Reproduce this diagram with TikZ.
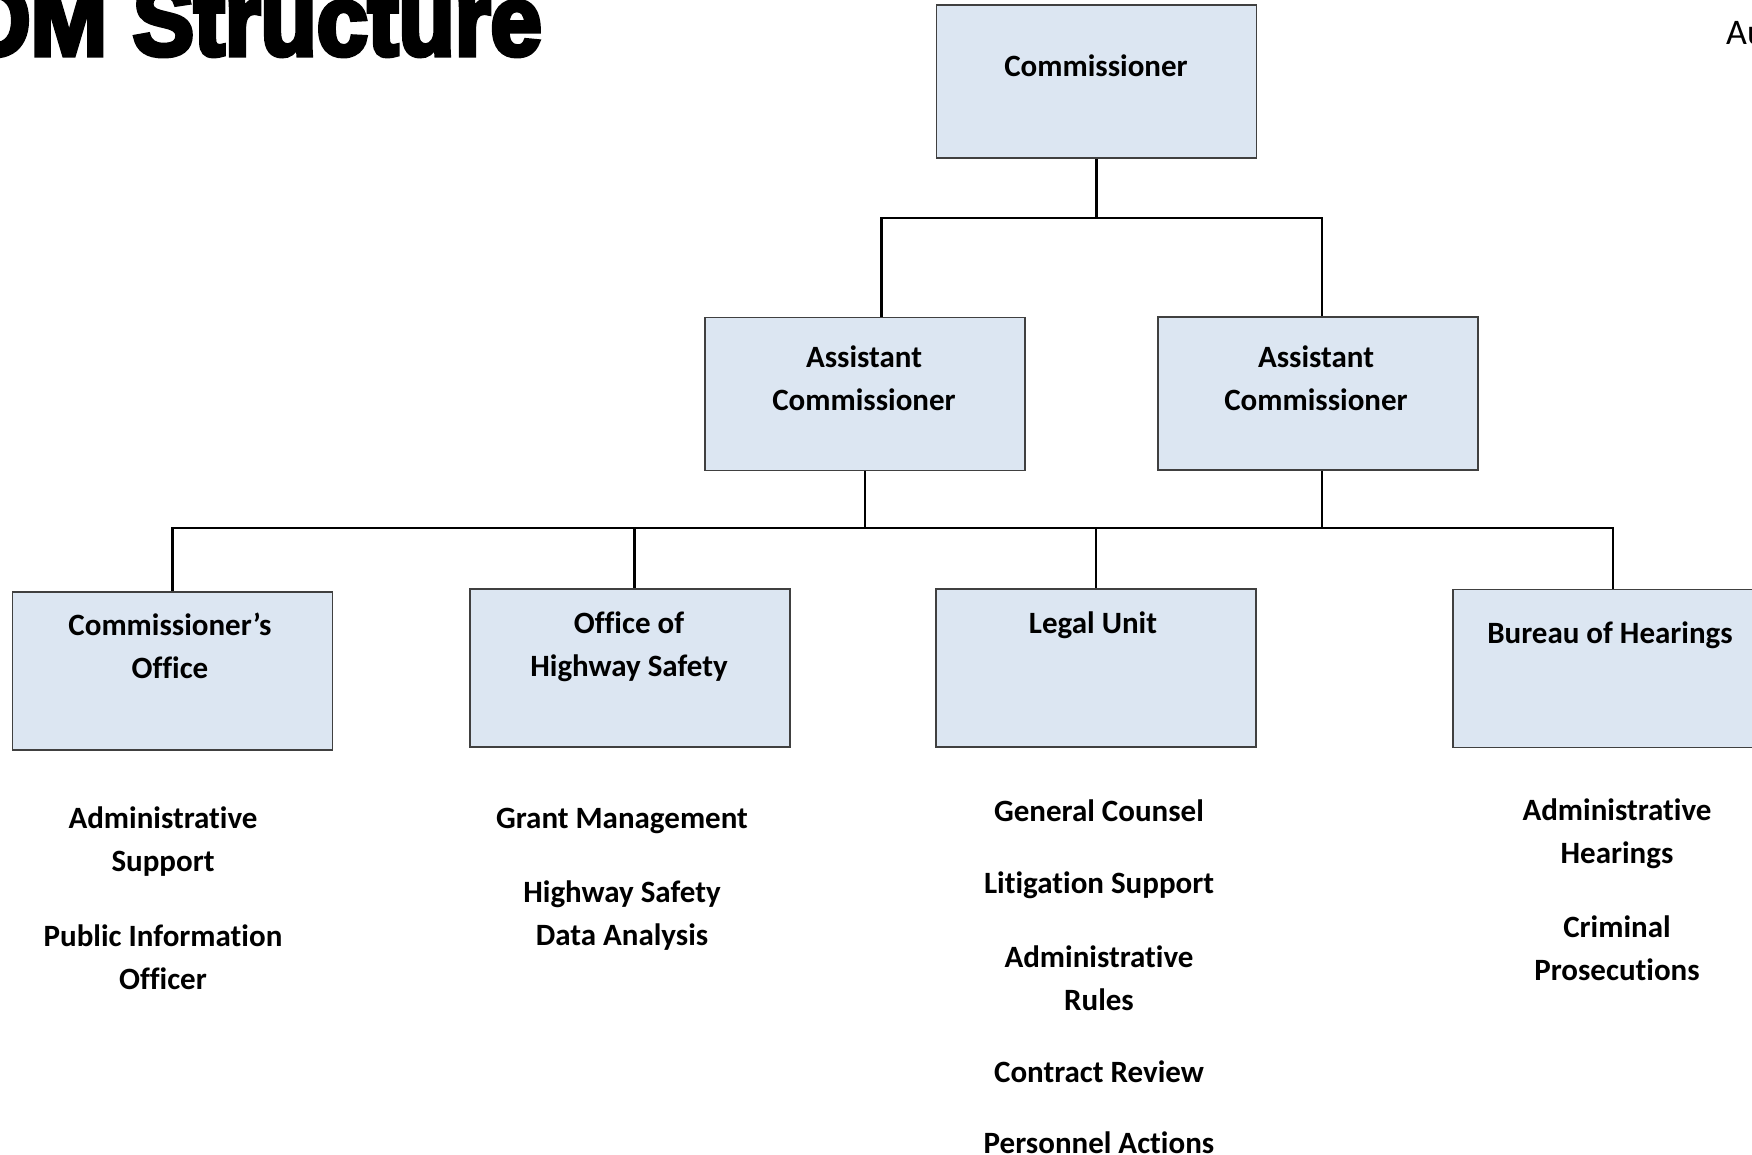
\documentclass[tikz,border=0pt]{standalone}
\usepackage{fontspec}
\setmainfont{Carlito}[Ligatures=NoCommon]
\newfontfamily\titlefont[FakeBold=5]{Liberation Sans Bold}
\definecolor{boxfill}{HTML}{DCE6F2}
\definecolor{boxline}{HTML}{404040}
\begin{document}
\begin{tikzpicture}[x=1pt,y=-1pt,
  unit/.style={draw=boxline, line width=1.6pt, fill=boxfill,
    minimum width=320pt, minimum height=153pt, inner sep=0pt},
  tallunit/.style={unit, minimum height=158pt},
  boxtext/.style={font=\bfseries\fontsize{31}{43}\selectfont, align=center, inner sep=0pt},
  duty/.style={font=\bfseries\fontsize{31}{43}\selectfont, align=center, inner sep=0pt},
  link/.style={line width=2.7pt, black}]
\useasboundingbox (0,0) rectangle (1752,1155);
\clip (0,0) rectangle (1752,1155);

% title and header fragment
\node[anchor=base east, inner sep=0pt] (title) at (542,55)
  {\scalebox{0.92}[1]{\titlefont\fontsize{100}{100}\selectfont OM Structure}};
\node[anchor=base west, inner sep=0pt, font=\fontsize{36}{40}\selectfont] (hdr) at (1726,45) {Au};

% units
\node[unit] (com) at (1096.5,81.5) {};
\node[unit] (acL) at (865,394) {};
\node[unit] (acR) at (1318,393.5) {};
\node[tallunit] (co)  at (172.5,671) {};
\node[tallunit] (ohs) at (630,668) {};
\node[tallunit] (lu)  at (1096,668) {};
\node[tallunit] (boh) at (1613,668.5) {};

% unit titles
\node[boxtext] (comT) at (1096,66) {Commissioner};
\node[boxtext] (acLT) at (864,378) {Assistant\\Commissioner};
\node[boxtext] (acRT) at (1316,378) {Assistant\\Commissioner};
\node[boxtext] (coT)  at (170,645.5) {Commissioner’s\\Office};
\node[boxtext] (ohsT) at (629,646.5) {Office of\\Highway Safety};
\node[boxtext] (luT)  at (1093,625) {Legal Unit};
\node[boxtext] (bohT) at (1610,635) {Bureau of Hearings};

% connectors
\coordinate (b1L) at (881.5,218);
\coordinate (b1R) at (1322,218);
\coordinate (b2)  at (0,528);
\draw[link] (com.south) -- (com.south |- b1L);
\draw[link] (b1L |- acL.north) -- (b1L) -- (b1R) -- (b1R |- acR.north);
\draw[link] (acL.south) -- (acL.south |- b2);
\draw[link] (b1R |- acR.south) -- (b1R |- b2);
\draw[link] (co.north) -- (co.north |- b2) -- (boh.north |- b2) -- (boh.north);
\draw[link] ([xshift=4.6pt]ohs.north |- b2) -- ([xshift=4.6pt]ohs.north);
\draw[link] (lu.north |- b2) -- (lu.north);

% duties under each unit
\node[duty] (d11) at (163,841.5) {Administrative\\Support};
\node[duty] (d12) at (163,957) {Public Information\\Officer};

\node[duty] (d21) at (622,821) {Grant Management};
\node[duty] (d22) at (622,916) {Highway Safety\\Data Analysis};

\node[duty] (d31) at (1099,810.5) {General Counsel};
\node[duty] (d32) at (1099,885) {Litigation Support};
\node[duty] (d33) at (1099,978) {Administrative\\Rules};
\node[duty] (d34) at (1099,1071.5) {Contract Review};
\node[duty] (d35) at (1099,1143) {Personnel Actions};

\node[duty] (d41) at (1617,834) {Administrative\\Hearings};
\node[duty] (d42) at (1617,948) {Criminal\\Prosecutions};
\end{tikzpicture}
\end{document}
